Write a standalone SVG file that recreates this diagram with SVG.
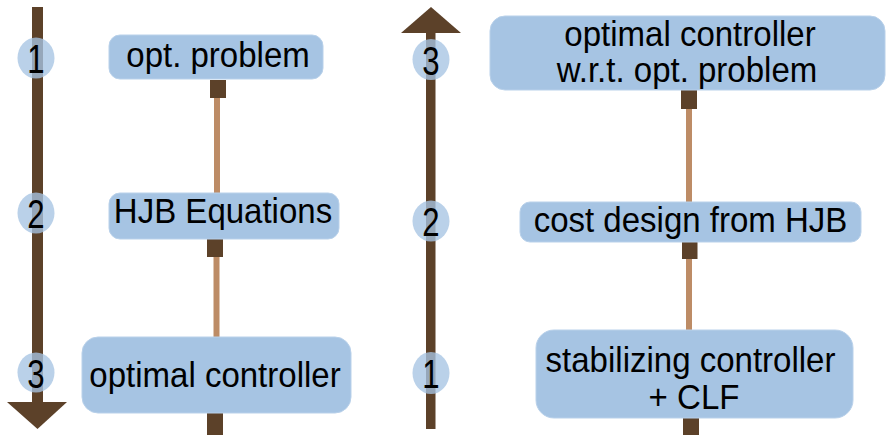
<svg xmlns="http://www.w3.org/2000/svg" width="886" height="435" viewBox="0 0 886 435">
<style>
.box{fill:#a6c4e3;stroke:#b9d1ea;stroke-width:1}
.t{font-family:"Liberation Sans",Arial,sans-serif;font-size:35.5px;fill:#000;text-anchor:middle}
.num{font-family:"Liberation Sans",Arial,sans-serif;font-size:41px;fill:#000;text-anchor:middle}
.circ{fill:#a6c4e3;fill-opacity:0.78}
.axis{fill:#5c4129}
.sq{fill:#5c4129}
.ln{stroke:#bd8c66;stroke-width:6;fill:none}
</style>
<g id="axes">
<rect class="axis" x="32" y="7" width="11" height="396"/>
<polygon class="axis" points="7,402 67,402 37.5,429"/>
<rect class="axis" x="426" y="32" width="9.5" height="397"/>
<polygon class="axis" points="401,33 461,33 431,7"/>
</g>
<g id="connectors">
<line class="ln" x1="217" y1="97" x2="217" y2="194"/>
<line class="ln" x1="216.5" y1="256" x2="216.5" y2="338"/>
<line class="ln" x1="689" y1="108" x2="689" y2="203"/>
<line class="ln" x1="689" y1="258" x2="689" y2="331"/>
<rect class="sq" x="210" y="80" width="16" height="18"/>
<rect class="sq" x="207" y="239" width="16" height="18"/>
<rect class="sq" x="207" y="413" width="16" height="22"/>
<rect class="sq" x="681" y="90" width="16" height="19"/>
<rect class="sq" x="682" y="242" width="15.5" height="17"/>
<rect class="sq" x="683" y="418" width="16" height="17"/>
</g>
<g id="step-l1"><ellipse class="circ" cx="36" cy="58" rx="18.5" ry="20.5"/><text class="num" transform="translate(36,73) scale(0.76,1)">1</text></g>
<g id="step-l2"><ellipse class="circ" cx="36" cy="213" rx="18.5" ry="20.5"/><text class="num" transform="translate(36,228) scale(0.76,1)">2</text></g>
<g id="step-l3"><ellipse class="circ" cx="36" cy="372.5" rx="18.5" ry="20"/><text class="num" transform="translate(36,387.5) scale(0.76,1)">3</text></g>
<g id="step-r3"><ellipse class="circ" cx="431" cy="59.5" rx="18.5" ry="20.5"/><text class="num" transform="translate(431,75) scale(0.76,1)">3</text></g>
<g id="step-r2"><ellipse class="circ" cx="431" cy="221" rx="18.5" ry="20.5"/><text class="num" transform="translate(431,236) scale(0.76,1)">2</text></g>
<g id="step-r1"><ellipse class="circ" cx="431" cy="373" rx="18.5" ry="21"/><text class="num" transform="translate(431,388) scale(0.76,1)">1</text></g>
<g id="opt-problem"><rect class="box" x="109" y="35" width="214" height="44" rx="11"/><text class="t" transform="translate(218,67) scale(0.93,1)">opt. problem</text></g>
<g id="hjb-equations"><rect class="box" x="109" y="193" width="230" height="46" rx="11"/><text class="t" transform="translate(223,223) scale(0.93,1)">HJB Equations</text></g>
<g id="optimal-controller"><rect class="box" x="82" y="337" width="269" height="76" rx="16"/><text class="t" transform="translate(215,387) scale(0.93,1)">optimal controller</text></g>
<g id="optimal-controller-wrt"><rect class="box" x="490" y="16" width="395" height="74" rx="15"/><text class="t" transform="translate(690,46) scale(0.93,1)">optimal controller</text><text class="t" transform="translate(687,82) scale(0.93,1)">w.r.t. opt. problem</text></g>
<g id="cost-design"><rect class="box" x="520" y="202" width="341" height="40" rx="10"/><text class="t" transform="translate(690.5,232) scale(0.93,1)">cost design from HJB</text></g>
<g id="stabilizing"><rect class="box" x="536" y="330" width="317" height="88" rx="18"/><text class="t" transform="translate(690.5,372) scale(0.93,1)">stabilizing controller</text><text class="t" transform="translate(694,409) scale(0.93,1)">+ CLF</text></g>
</svg>
